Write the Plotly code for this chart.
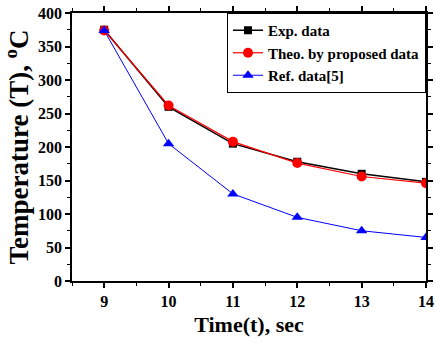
import plotly.graph_objects as go

time = [9, 10, 11, 12, 13, 14]
exp_data = [375, 260, 205, 178, 160, 148]
theo_data = [374, 262, 208, 176, 156, 146]
ref_data = [374, 205, 130, 95, 75, 65]

FONT = "Liberation Serif"

fig = go.Figure()
fig.add_trace(go.Scatter(x=time, y=exp_data, mode="lines+markers", name="<b>Exp. data</b>",
                         line=dict(color="black", width=1.5),
                         marker=dict(symbol="square", size=8, color="black")))
fig.add_trace(go.Scatter(x=time, y=theo_data, mode="lines+markers", name="<b>Theo. by proposed data</b>",
                         line=dict(color="red", width=1.2),
                         marker=dict(symbol="circle", size=10, color="red")))
fig.add_trace(go.Scatter(x=time, y=ref_data, mode="lines+markers", name="<b>Ref. data[5]</b>",
                         line=dict(color="blue", width=1),
                         marker=dict(symbol="triangle-up", size=10, color="blue")))

axis_common = dict(showline=True, linecolor="black", linewidth=1.5, mirror="ticks",
                   ticks="outside", ticklen=5, tickwidth=1.5, tickcolor="black",
                   showgrid=False, zeroline=False, automargin=False,
                   tickfont=dict(family=FONT, size=16, color="black"))

fig.update_xaxes(range=[8.5, 14], tickvals=time, ticktext=[f"<b>{t}</b>" for t in time],
                 minor=dict(ticks="outside", ticklen=3, tickwidth=1, tickcolor="black", dtick=0.5, tick0=8.5),
                 title=dict(text="<b>Time(t), sec</b>", font=dict(family=FONT, size=22, color="black"), standoff=8),
                 **axis_common)
yt = [0, 50, 100, 150, 200, 250, 300, 350, 400]
fig.update_yaxes(range=[0, 400], tickvals=yt, ticktext=[f"<b>{v}</b>" for v in yt],
                 minor=dict(ticks="outside", ticklen=3, tickwidth=1, tickcolor="black", dtick=25, tick0=0),
                 title=dict(text="<b>Temperature (T), <sup>o</sup>C</b>", font=dict(family=FONT, size=27, color="black"), standoff=2),
                 **axis_common)

fig.update_layout(width=435, height=343, margin=dict(l=72, r=9, t=13, b=62),
                  plot_bgcolor="white", paper_bgcolor="white",
                  font=dict(family=FONT, color="black"),
                  legend=dict(x=1, y=1, xanchor="right", yanchor="top",
                              bordercolor="black", borderwidth=1, bgcolor="white",
                              font=dict(family=FONT, size=15, color="black"),
                              tracegroupgap=0, itemwidth=30))

fig.write_html("out.html", config={"displayModeBar": False},
               post_script="document.body.style.margin='0';")
